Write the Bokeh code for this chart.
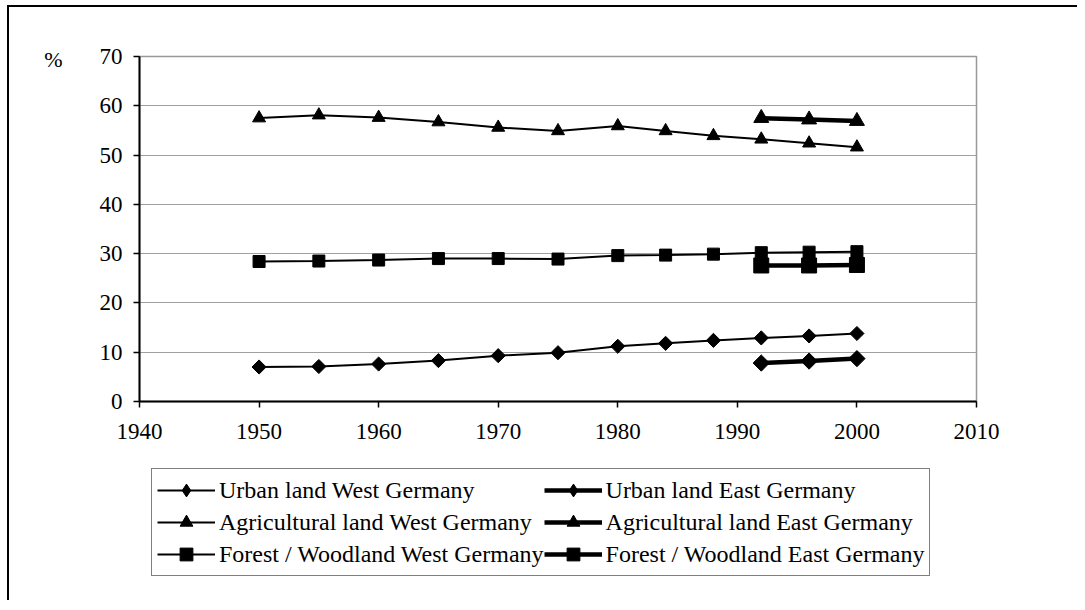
from bokeh.plotting import figure
from bokeh.layouts import column
from bokeh.models import (Legend, LegendItem, FixedTicker, Range1d, LinearAxis,
                          CustomJSTickFormatter)
from bokeh.embed import file_html
from bokeh.resources import INLINE

years_w = [1950, 1955, 1960, 1965, 1970, 1975, 1980, 1984, 1988, 1992, 1996, 2000]
urban_w = [7.0, 7.1, 7.6, 8.3, 9.3, 9.9, 11.2, 11.8, 12.4, 12.9, 13.3, 13.8]
agri_w = [57.5, 58.1, 57.6, 56.7, 55.6, 54.9, 55.9, 54.9, 53.9, 53.2, 52.4, 51.6]
forest_w = [28.4, 28.5, 28.7, 29.0, 29.0, 28.9, 29.6, 29.7, 29.9, 30.2, 30.3, 30.4]

years_e = [1992, 1996, 2000]
urban_e = [7.8, 8.2, 8.7]
agri_e = [57.5, 57.2, 56.9]
forest_e = [27.6, 27.6, 27.7]

x_ticks = [1940, 1950, 1960, 1970, 1980, 1990, 2000, 2010]
y_ticks = [0, 10, 20, 30, 40, 50, 60, 70]
unit_label = "%"

labels_w = ["Urban land West Germany", "Agricultural land West Germany", "Forest / Woodland West Germany"]
labels_e = ["Urban land East Germany", "Agricultural land East Germany", "Forest / Woodland East Germany"]

FONT = "Liberation Serif"
W = 1077
TOP_H = 461
BOT_H = 139

p = figure(frame_width=837, frame_height=345, output_backend="svg", toolbar_location=None,
           x_range=Range1d(1940, 2010), y_range=Range1d(0, 70),
           min_border_left=139, min_border_top=56, min_border_right=W - 139 - 837,
           min_border_bottom=TOP_H - 56 - 345)
p.background_fill_color = "white"
p.border_fill_color = None
p.outline_line_color = "#999999"
p.outline_line_width = 1.5

p.xgrid.grid_line_color = None
p.ygrid.grid_line_color = "#a0a0a0"
p.ygrid.grid_line_width = 1
p.xaxis.ticker = FixedTicker(ticks=x_ticks)
p.yaxis.ticker = FixedTicker(ticks=y_ticks)
for ax in (p.xaxis, p.yaxis):
    ax.axis_line_color = "black"
    ax.axis_line_width = 2
    ax.major_tick_line_color = "black"
    ax.major_tick_line_width = 1.5
    ax.major_tick_in = 0
    ax.major_tick_out = 6
    ax.minor_tick_line_color = None
    ax.major_label_text_font = FONT
    ax.major_label_text_font_size = "23px"
    ax.major_label_text_color = "black"
p.xaxis.major_label_standoff = 16
p.yaxis.major_label_standoff = 11

# "%" unit marker at the top-left, drawn as an extra axis label
unit_axis = LinearAxis(ticker=FixedTicker(ticks=[69.3]),
                       formatter=CustomJSTickFormatter(code="return '%s'" % unit_label))
unit_axis.axis_line_color = None
unit_axis.major_tick_line_color = None
unit_axis.minor_tick_line_color = None
unit_axis.major_tick_in = 0
unit_axis.major_tick_out = 0
unit_axis.major_label_standoff = 34
unit_axis.major_label_text_font = FONT
unit_axis.major_label_text_font_size = "22px"
unit_axis.major_label_text_color = "black"
p.add_layout(unit_axis, "left")

styles_w = dict(markers=["square", "triangle", "square"], legend_markers=["diamond", "triangle", "square"],
                sizes=[10, 13, 12], angles=[0.785398, 0, 0], width=2)
styles_e = dict(markers=["square", "triangle", "square"], legend_markers=["diamond", "triangle", "square"],
                sizes=[11.5, 15, 15], angles=[0.785398, 0, 0], width=4.5)

groups = ((years_w, [urban_w, agri_w, forest_w], labels_w, styles_w),
          (years_e, [urban_e, agri_e, forest_e], labels_e, styles_e))

for yrs, series, labels, st in groups:
    for ys, mk, sz, ang in zip(series, st["markers"], st["sizes"], st["angles"]):
        p.line(yrs, ys, line_color="black", line_width=st["width"])
        p.scatter(yrs, ys, marker=mk, size=sz, angle=ang, fill_color="black", line_color="black")

# legend panel below the chart (its renderers lie outside its own ranges, so only the legend shows)
p2 = figure(width=W, height=BOT_H, output_backend="svg", toolbar_location=None,
            x_range=Range1d(0, 1), y_range=Range1d(0, 1), x_axis_type=None, y_axis_type=None,
            min_border=0)
p2.grid.visible = False
p2.outline_line_color = None
p2.border_fill_color = None
p2.background_fill_color = None

items = []
for yrs, series, labels, st in groups:
    for ys, lab, mk, sz in zip(series, labels, st["legend_markers"], st["sizes"]):
        l = p2.line(yrs, ys, line_color="black", line_width=st["width"])
        s = p2.scatter(yrs, ys, marker=mk, size=sz, fill_color="black", line_color="black")
        items.append(LegendItem(label=lab, renderers=[l, s]))

legend = Legend(items=items, ncols=2, location=(151 - 139, BOT_H - (576 - TOP_H)))
legend.label_text_font = FONT
legend.label_text_font_size = "24px"
legend.label_text_color = "black"
legend.glyph_width = 58
legend.glyph_height = 32
legend.label_height = 32
legend.label_standoff = 4
legend.spacing = 0
legend.padding = 5
legend.margin = 0
legend.border_line_color = "black"
legend.border_line_width = 1.5
legend.background_fill_color = "white"
legend.background_fill_alpha = 1
p2.add_layout(legend, "center")

layout = column(p, p2, spacing=0)
layout.styles = {
    "background": "linear-gradient(#000,#000) 7px 5px / 2px 100% no-repeat, "
                  "linear-gradient(#000,#000) 7px 5px / 100% 2px no-repeat, white",
}

open("out.html", "w").write(file_html(layout, INLINE))
